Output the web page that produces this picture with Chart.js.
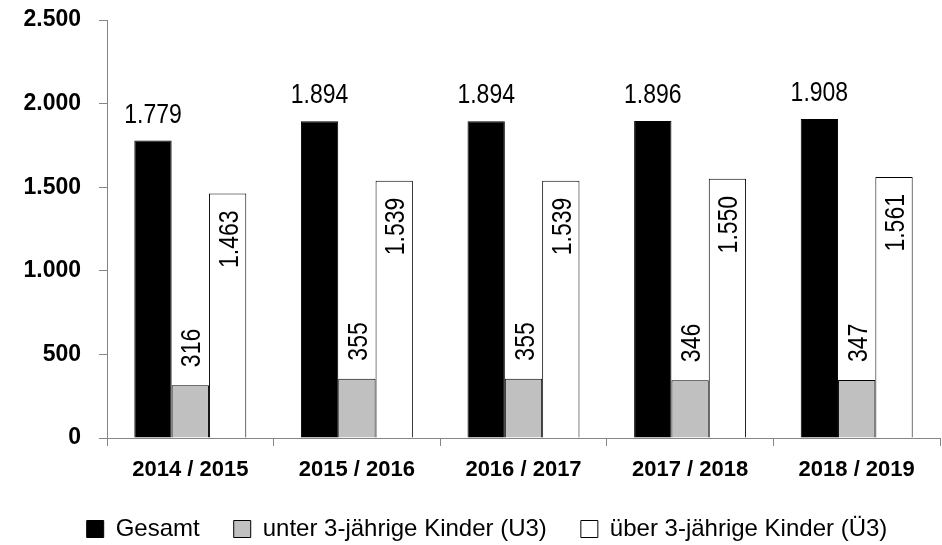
<!DOCTYPE html>
<html>
<head>
<meta charset="utf-8">
<script src="https://cdn.jsdelivr.net/npm/chart.js@4/dist/chart.umd.min.js"></script>
<style>
html,body{margin:0;padding:0;background:#fff;}
#wrap{width:942px;height:545px;}
</style>
</head>
<body>
<div id="wrap"><canvas id="c" width="942" height="545"></canvas></div>
<script>
const categories = ['2014 / 2015', '2015 / 2016', '2016 / 2017', '2017 / 2018', '2018 / 2019'];
const gesamt = [1779, 1894, 1894, 1896, 1908];
const unter3 = [316, 355, 355, 346, 347];
const ueber3 = [1463, 1539, 1539, 1550, 1561];
const seriesNames = ['Gesamt', 'unter 3-jährige Kinder (U3)', 'über 3-jährige Kinder (Ü3)'];
const yTicks = [0, 500, 1000, 1500, 2000, 2500];

const FONT = "'Liberation Sans', Arial, sans-serif";
const AXIS = '#868686';

function fmt(v) {
  return String(v).replace(/\B(?=(\d{3})+(?!\d))/g, '.');
}

const labelPlugin = {
  id: 'valueLabels',
  afterLayout(chart) {
    if (chart.legend) { chart.legend.left += 34; }
  },
  afterDatasetsDraw(chart) {
    const ctx = chart.ctx;
    chart.data.datasets.forEach((ds, di) => {
      const meta = chart.getDatasetMeta(di);
      meta.data.forEach((bar, i) => {
        const txt = fmt(ds.data[i]);
        ctx.save();
        ctx.fillStyle = '#000';
        ctx.font = '23px ' + FONT;
        ctx.textBaseline = 'alphabetic';
        if (di === 0) {
          ctx.translate(bar.x, bar.y - 18);
          ctx.scale(1, 1.2);
          ctx.textAlign = 'center';
          ctx.fillText(txt, 0, 0);
        } else {
          ctx.translate(bar.x + 10, di === 1 ? bar.y - 18 : bar.y + 17);
          ctx.rotate(-Math.PI / 2);
          ctx.scale(1, 1.2);
          ctx.textAlign = di === 1 ? 'left' : 'right';
          ctx.fillText(txt, 0, 0);
        }
        ctx.restore();
      });
    });
  }
};

new Chart(document.getElementById('c'), {
  type: 'bar',
  data: {
    labels: categories,
    datasets: [
      { label: seriesNames[0], data: gesamt, backgroundColor: '#000000', borderColor: '#000000', borderWidth: 1 },
      { label: seriesNames[1], data: unter3, backgroundColor: '#c0c0c0', borderColor: '#000000', borderWidth: 1 },
      { label: seriesNames[2], data: ueber3, backgroundColor: '#ffffff', borderColor: '#000000', borderWidth: 1 }
    ]
  },
  options: {
    responsive: false,
    animation: false,
    devicePixelRatio: 1,
    datasets: { bar: { barPercentage: 1, categoryPercentage: 0.672 } },
    layout: { padding: { top: 20, right: 2, left: 0, bottom: -6 } },
    plugins: {
      legend: {
        position: 'bottom',
        labels: {
          font: { family: FONT, size: 24 },
          color: '#000',
          boxWidth: 17,
          boxHeight: 17,
          padding: 34
        }
      },
      tooltip: { enabled: false }
    },
    scales: {
      x: {
        grid: { offset: true, drawOnChartArea: false, drawTicks: true, tickLength: 8, color: AXIS },
        border: { color: AXIS, width: 1 },
        ticks: { font: { family: FONT, size: 22, weight: 'bold' }, color: '#000', padding: 11 },
        afterFit(s) { s.height = 45; s.paddingLeft = 0; s.paddingRight = 0; }
      },
      y: {
        min: 0,
        max: 2500,
        afterBuildTicks(s) { s.ticks = yTicks.map(v => ({ value: v })); },
        grid: { drawOnChartArea: false, drawTicks: true, tickLength: 8, color: AXIS },
        border: { color: AXIS, width: 1 },
        ticks: { font: { family: FONT, size: 23, weight: 'bold' }, color: '#000', padding: 18, callback: v => fmt(v) },
        afterFit(s) { s.width = 107; s.paddingTop = 0; s.paddingBottom = 0; }
      }
    }
  },
  plugins: [labelPlugin]
});
</script>
</body>
</html>
